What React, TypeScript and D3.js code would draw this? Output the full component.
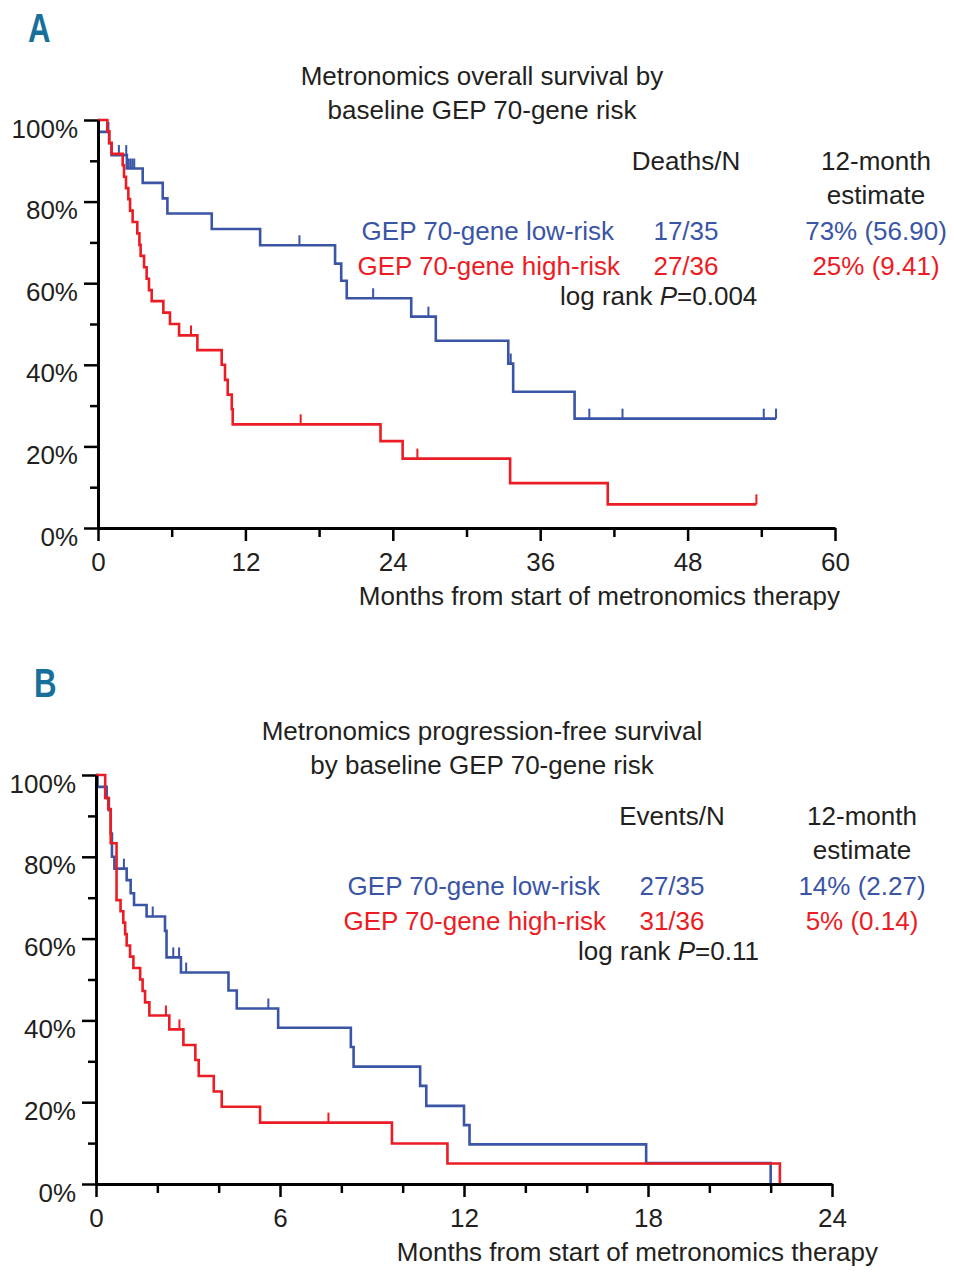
import * as d3 from 'd3'
import { useEffect, useRef } from 'react'

type Step = [number, number]

// Panel A: overall survival, [month, survival %] at each drop
const osLowSteps: Step[] = [
  [0, 100], [0.05, 97.1], [0.9, 94.3], [1.1, 91.4], [2.35, 88.1], [3.64, 84.6],
  [5.27, 80.8], [5.65, 77.1], [9.26, 73.3], [13.2, 69.3], [19.3, 64.8],
  [19.8, 60.6], [20.25, 56.3], [25.5, 51.8], [27.5, 45.9], [33.4, 40.3],
  [33.8, 33.4], [38.8, 26.8],
]
const osLowCensor = [0.85, 1.7, 2.3, 2.5, 2.65, 2.8, 2.95, 16.4, 22.4, 26.9, 33.6, 40.0, 42.7, 54.2, 55.2]
const osLowEnd = 55.2

const osHighSteps: Step[] = [
  [0, 100], [0.76, 97.2], [0.92, 94.4], [1.11, 91.7], [2.01, 88.9], [2.12, 86.1],
  [2.28, 83.3], [2.47, 80.6], [2.61, 77.8], [2.82, 75.0], [3.2, 72.2], [3.37, 69.4],
  [3.47, 66.7], [3.75, 63.9], [3.96, 61.1], [4.15, 58.3], [4.37, 55.6], [5.32, 52.8],
  [5.86, 50.0], [6.6, 47.2], [8.09, 43.6], [10.07, 40.0], [10.34, 36.3], [10.56, 32.7],
  [10.89, 29.1], [10.97, 25.4], [23.0, 21.3], [24.8, 17.0], [33.55, 11.0], [41.5, 5.8],
]
const osHighCensor = [7.57, 16.5, 26.0, 53.6]
const osHighEnd = 53.6

// Panel B: progression-free survival
const pfsLowSteps: Step[] = [
  [0, 100], [0.05, 97.1], [0.35, 94.3], [0.42, 91.4], [0.48, 85.7], [0.52, 80.0],
  [0.6, 77.1], [1.0, 74.3], [1.13, 71.1], [1.24, 68.2], [1.65, 65.4], [2.25, 61.9],
  [2.3, 55.4], [2.77, 51.7], [4.32, 47.3], [4.59, 42.9], [5.94, 38.2], [8.31, 33.5],
  [8.4, 28.7], [10.57, 24.0], [10.77, 19.1], [12.0, 14.4], [12.18, 9.7], [17.94, 5.1],
  [22.0, 0],
]
const pfsLowCensor = [0.91, 1.85, 2.52, 2.71, 2.94, 5.62]
const pfsLowEnd = 22.0

const pfsHighSteps: Step[] = [
  [0, 100], [0.3, 94.4], [0.4, 91.7], [0.48, 83.3], [0.67, 69.4], [0.8, 66.7],
  [0.89, 63.9], [0.95, 61.1], [1.0, 58.3], [1.11, 55.6], [1.22, 52.8], [1.44, 50.0],
  [1.52, 47.2], [1.6, 44.4], [1.74, 41.2], [2.39, 37.8], [2.85, 34.0], [3.24, 30.3],
  [3.35, 26.4], [3.84, 22.6], [4.1, 18.9], [5.35, 15.0], [9.65, 9.9], [11.46, 5.0],
  [22.3, 0],
]
const pfsHighCensor = [2.28, 2.72, 7.58]
const pfsHighEnd = 22.3

const osXTicks = [0, 12, 24, 36, 48, 60]
const osXMinor = [6, 18, 30, 42, 54]
const pfsXTicks = [0, 6, 12, 18, 24]
const pfsXMinor = [2, 4, 8, 10, 14, 16, 20, 22]
const yTicks = [0, 20, 40, 60, 80, 100]
const yMinor = [10, 30, 50, 70, 90]

const osTitle = ['Metronomics overall survival by', 'baseline GEP 70-gene risk']
const pfsTitle = ['Metronomics progression-free survival', 'by baseline GEP 70-gene risk']
const groupLabels = ['GEP 70-gene low-risk', 'GEP 70-gene high-risk']
const osCounts = ['17/35', '27/36']
const osEstimates = ['73% (56.90)', '25% (9.41)']
const pfsCounts = ['27/35', '31/36']
const pfsEstimates = ['14% (2.27)', '5% (0.14)']
const xLabel = 'Months from start of metronomics therapy'

const FONT = '"Liberation Sans", Arial, Helvetica, sans-serif'
const BLUE = '#3a54a6'
const RED = '#ec1c24'
const INK = '#231f20'

const survAt = (steps: Step[], t: number) => {
  let s = steps[0][1]
  for (const [time, v] of steps) if (time <= t) s = v
  return s
}

interface Curve {
  steps: Step[]
  censor: number[]
  end: number
  color: string
}

interface PanelProps {
  letter: string
  letterX: number
  letterY: number
  top: number
  xMax: number
  xRange: [number, number]
  yRange: [number, number]
  xTicks: number[]
  xMinor: number[]
  curves: Curve[]
  title: string[]
  countHead: string
  counts: string[]
  estimates: string[]
  pValue: string
  colCount: number
  colEst: number
  labelRight: number
  pLeft: number
  xLabelRight: number
}

function Panel(p: PanelProps) {
  const xAxisRef = useRef<SVGGElement>(null)
  const yAxisRef = useRef<SVGGElement>(null)

  const x = d3.scaleLinear().domain([0, p.xMax]).range(p.xRange)
  const y = d3.scaleLinear().domain([0, 100]).range(p.yRange)

  useEffect(() => {
    if (!xAxisRef.current || !yAxisRef.current) return
    const gx = d3.select(xAxisRef.current)
    const gy = d3.select(yAxisRef.current)
    gx.selectAll('*').remove()
    gy.selectAll('*').remove()

    // minor ticks, no labels
    gx.append('g')
      .call(d3.axisBottom(x).tickValues(p.xMinor).tickSize(9).tickFormat(() => ''))
      .call(g => g.select('.domain').remove())
    gy.append('g')
      .call(d3.axisLeft(y).tickValues(yMinor).tickSize(8).tickFormat(() => ''))
      .call(g => g.select('.domain').remove())

    gx.append('g')
      .call(d3.axisBottom(x).tickValues(p.xTicks).tickSize(13).tickSizeOuter(0).tickPadding(12).tickFormat(d3.format('d')))
    gy.append('g')
      .call(d3.axisLeft(y).tickValues(yTicks).tickSize(14).tickSizeOuter(0).tickPadding(6).tickFormat(d => `${d}%`))

    for (const g of [gx, gy]) {
      g.selectAll('g').attr('font-size', 26).attr('font-family', FONT)
      g.selectAll('.domain').attr('stroke', '#000').attr('stroke-width', 3)
      g.selectAll('.tick line').attr('stroke', '#000').attr('stroke-width', 2.5)
      g.selectAll('.tick text').attr('fill', INK)
    }
    gy.selectAll('.tick text').attr('dy', '0.66em')
  }, [p])

  const line = d3
    .line<Step>()
    .x(d => x(d[0]))
    .y(d => y(d[1]))
    .curve(d3.curveStepAfter)

  const t = p.top

  return (
    <g fontFamily={FONT} fontSize={26} fill={INK}>
      <text x={p.letterX} y={p.letterY} fontSize={40} fontWeight="bold" fill="#17709a"
        transform={`translate(${p.letterX},0) scale(0.78,1) translate(${-p.letterX},0)`}>
        {p.letter}
      </text>
      <text x={482} y={t + 85} textAnchor="middle">{p.title[0]}</text>
      <text x={482} y={t + 119} textAnchor="middle">{p.title[1]}</text>

      <text x={p.colCount} y={t + 170} textAnchor="middle">{p.countHead}</text>
      <text x={p.colEst} y={t + 170} textAnchor="middle">12-month</text>
      <text x={p.colEst} y={t + 204} textAnchor="middle">estimate</text>

      <text x={p.labelRight} y={t + 240} textAnchor="end" fill={BLUE}>{groupLabels[0]}</text>
      <text x={p.colCount} y={t + 240} textAnchor="middle" fill={BLUE}>{p.counts[0]}</text>
      <text x={p.colEst} y={t + 240} textAnchor="middle" fill={BLUE}>{p.estimates[0]}</text>
      <text x={p.labelRight + 6} y={t + 275} textAnchor="end" fill={RED}>{groupLabels[1]}</text>
      <text x={p.colCount} y={t + 275} textAnchor="middle" fill={RED}>{p.counts[1]}</text>
      <text x={p.colEst} y={t + 275} textAnchor="middle" fill={RED}>{p.estimates[1]}</text>
      <text x={p.pLeft} y={t + 305}>
        log rank <tspan fontStyle="italic">P</tspan>={p.pValue}
      </text>

      {p.curves.map((c, i) => {
        const last = c.steps[c.steps.length - 1][1]
        const data: Step[] = [...c.steps, [c.end, last]]
        return (
          <g key={i}>
            <path d={line(data) ?? ''} fill="none" stroke={c.color} strokeWidth={2.6} />
            {c.censor.map((m, j) => (
              <line key={j} x1={x(m)} x2={x(m)} y1={y(survAt(c.steps, m))} y2={y(survAt(c.steps, m)) - 10}
                stroke={c.color} strokeWidth={2} />
            ))}
          </g>
        )
      })}

      <g ref={xAxisRef} transform={`translate(0,${y(0)})`} />
      <g ref={yAxisRef} transform={`translate(${x(0)},0)`} />

      <text x={p.xLabelRight} y={y(0) + 77} textAnchor="end">{xLabel}</text>
    </g>
  )
}

const panelA: PanelProps = {
  letter: 'A', letterX: 28, letterY: 42, top: 0, xMax: 60,
  xRange: [98, 835], yRange: [528, 120],
  xTicks: osXTicks, xMinor: osXMinor,
  curves: [
    { steps: osLowSteps, censor: osLowCensor, end: osLowEnd, color: BLUE },
    { steps: osHighSteps, censor: osHighCensor, end: osHighEnd, color: RED },
  ],
  title: osTitle, countHead: 'Deaths/N', counts: osCounts, estimates: osEstimates,
  pValue: '0.004', colCount: 686, colEst: 876, labelRight: 614, pLeft: 560, xLabelRight: 840,
}

const panelB: PanelProps = {
  letter: 'B', letterX: 34, letterY: 697, top: 655, xMax: 24,
  xRange: [96, 832], yRange: [1184, 775],
  xTicks: pfsXTicks, xMinor: pfsXMinor,
  curves: [
    { steps: pfsLowSteps, censor: pfsLowCensor, end: pfsLowEnd, color: BLUE },
    { steps: pfsHighSteps, censor: pfsHighCensor, end: pfsHighEnd, color: RED },
  ],
  title: pfsTitle, countHead: 'Events/N', counts: pfsCounts, estimates: pfsEstimates,
  pValue: '0.11', colCount: 672, colEst: 862, labelRight: 600, pLeft: 578, xLabelRight: 878,
}

export default function App() {
  return (
    <svg width={954} height={1280} style={{ position: 'absolute', left: 0, top: 0, background: '#fff' }}>
      <rect width={954} height={1280} fill="#fff" />
      <Panel {...panelA} />
      <Panel {...panelB} />
    </svg>
  )
}
